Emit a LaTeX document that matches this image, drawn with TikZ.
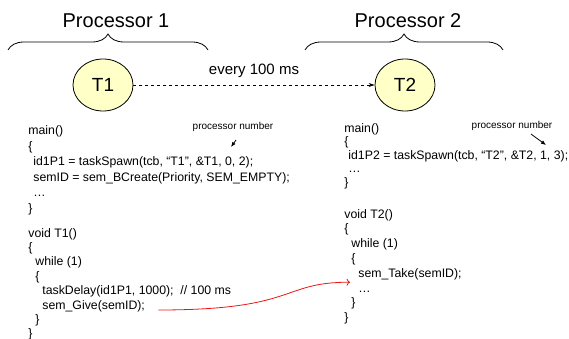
\documentclass[tikz,border=0pt]{standalone}
\usepackage{fontspec}
\setmainfont{Liberation Sans}
\usetikzlibrary{arrows.meta,positioning,shapes.geometric,calc,
                decorations.pathreplacing}
\definecolor{tkYellow}{RGB}{255,255,200}
\definecolor{tkRed}   {RGB}{235, 20, 20}

\begin{document}
\begin{tikzpicture}[x=1pt,y=-1pt,line width=0.8pt,
  every node/.style={inner sep=0pt},
  title/.style={font=\fontsize{20}{24}\selectfont},
  task/.style={draw,ellipse,fill=tkYellow,minimum width=60pt,
               minimum height=52pt,font=\fontsize{19}{22}\selectfont},
  code/.style={anchor=base west,font=\fontsize{12.3}{14}\selectfont},
  note/.style={font=\fontsize{10}{12}\selectfont},
  group/.style={decorate,decoration={brace,amplitude=16pt}},
  pointer/.style={-{Latex[length=5pt,width=4pt]}}
]
\useasboundingbox (0,0) rectangle (569,339);
% processors
\node[title] (P1) at (116,21) {Processor 1};
\node[title] (P2) at (408,21) {Processor 2};
\draw[group] (8,50) -- (208,50);
\draw[group] (305,50) -- (503,50);
% tasks
\node[task] (T1) at (103,85) {T1};
\node[task] (T2) at (405,85) {T2};
\draw[dashed,-{Stealth[length=6pt,width=4pt]}] (T1) --
  node[above=7pt,font=\fontsize{15}{18}\selectfont] (R) {every 100 ms} (T2);
% code on processor 1
\foreach \x/\t [count=\i] in {28/{main()},28/{\{},
    33/{id1P1 = taskSpawn(tcb, “T1”, \&T1, 0, 2);},
    33/{semID = sem\_BCreate(Priority, SEM\_EMPTY);},33/{…},28/{\}}}
  \node[code] (A\i) at (\x,{135+15.4*(\i-1)}) {\t};
\foreach \x/\t [count=\i] in {28/{void T1()},28/{\{},35/{while (1)},35/{\{},
    42/{taskDelay(id1P1, 1000);\ \ // 100 ms},42/{sem\_Give(semID);},
    35/{\}},28/{\}}}
  \node[code] (B\i) at (\x,{237+14.4*(\i-1)}) {\t};
% code on processor 2
\foreach \x/\t [count=\i] in {344/{main()},344/{\{},
    348/{id1P2 = taskSpawn(tcb, “T2”, \&T2, 1, 3);},348/{…},344/{\}}}
  \node[code] (C\i) at (\x,{132+13.6*(\i-1)}) {\t};
\foreach \x/\t [count=\i] in {344/{void T2()},344/{\{},351/{while (1)},351/{\{},
    358/{sem\_Take(semID);},358/{…},351/{\}},344/{\}}}
  \node[code] (D\i) at (\x,{218+14.8*(\i-1)}) {\t};
% processor numbers
\node[note] (N1) at (233,127) {processor number};
\node[note] (N2) at (512,126) {processor number};
\coordinate (S1) at (231,147);
\coordinate (S2) at (546,145);
\draw[pointer] ($(N1.south)+(3,8)$) -- (S1);
\draw[pointer] ($(N2.south)+(19,3)$) -- (S2);
% semaphore
\draw[tkRed,->] ($(B6.base east)+(13,1)$) .. controls +(140,0) and +(-70,0)
  .. ($(D5.base west)+(-8,5)$);
\end{tikzpicture}
\end{document}
